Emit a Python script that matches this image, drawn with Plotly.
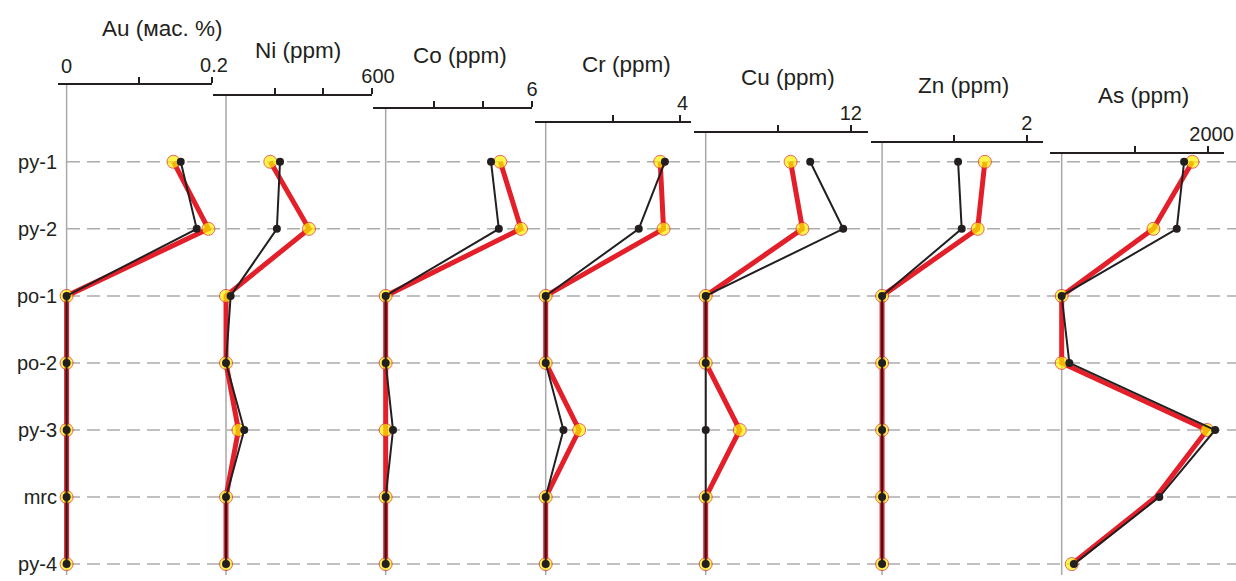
import plotly.graph_objects as go

# ---------------- data ----------------
samples = ['py-1', 'py-2', 'po-1', 'po-2', 'py-3', 'mrc', 'py-4']
elements = ['Au', 'Ni', 'Co', 'Cr', 'Cu', 'Zn', 'As']
titles = ['Au (мас. %)', 'Ni (ppm)', 'Co (ppm)', 'Cr (ppm)',
          'Cu (ppm)', 'Zn (ppm)', 'As (ppm)']

au_red = [0.147, 0.195, 0, 0, 0, 0, 0]
au_black = [0.157, 0.179, 0, 0, 0, 0, 0]
ni_red = [182, 341, 0, 0, 51, 0, 0]
ni_black = [222, 209, 19, 0, 75, 0, 0]
co_red = [4.70, 5.55, 0, 0, 0, 0, 0]
co_black = [4.32, 4.64, 0, 0, 0.30, 0, 0]
cr_red = [3.42, 3.52, 0, 0, 1.00, 0, 0]
cr_black = [3.56, 2.78, 0, 0, 0.53, 0, 0]
cu_red = [7.02, 8.00, 0, 0, 2.82, 0, 0]
cu_black = [8.64, 11.37, 0, 0, 0, 0, 0]
zn_red = [1.42, 1.32, 0, 0, 0, 0, 0]
zn_black = [1.05, 1.10, 0, 0, 0, 0, 0]
as_red = [1792, 1257, 0, 0, 1993, 1293, 138]
as_black = [1678, 1577, 0, 105, 2103, 1338, 167]

red_series = [au_red, ni_red, co_red, cr_red, cu_red, zn_red, as_red]
black_series = [au_black, ni_black, co_black, cr_black, cu_black, zn_black, as_black]

tick_vals = [[0.1, 0.2], [200, 400, 600], [2, 4, 6], [2, 4], [6, 12], [1, 2], [1000, 2000]]
tick_text = [['', '0.2'], ['', '', '600'], ['', '', '6'], ['', '4'], ['', '12'], ['', '2'], ['', '2000']]

# ---------------- layout (pixels) ----------------
W, H = 1236, 581
dom_px = [(58, 212), (213, 372), (373, 532), (535, 691), (693.5, 867.5), (871, 1043.3), (1050.3, 1224.3)]
axis_y_px = [84, 95, 108, 122, 132, 142, 152.5]
ranges = [[-0.01183, 0.2], [-53.5, 600], [-0.52, 6], [-0.32, 4.34],
          [-1.01, 13.38], [-0.153, 2.227], [-156, 2229]]
title_px = [(162.5, 28), (298, 50), (460, 56), (626, 65), (787.5, 78), (963, 86), (1143, 95)]
label_shift = [2, 6, 0, 3, 0, 0, 4]

TXT = '#231f20'
RED = '#e3202a'
YEL = '#fff200'
BLK = '#231f20'
FONT = 'Liberation Sans, Arial, sans-serif'

fig = go.Figure()
layout = dict(
    template='none',
    width=W, height=H, autosize=False,
    margin=dict(l=0, r=0, t=0, b=0, pad=0),
    paper_bgcolor='white', plot_bgcolor='rgba(0,0,0,0)',
    showlegend=False,
    font=dict(family=FONT, color=TXT),
)

shapes = []
annotations = []

for i, el in enumerate(elements):
    n = i + 1
    xname = 'xaxis' if n == 1 else f'xaxis{n}'
    xref = 'x' if n == 1 else f'x{n}'
    pos = 1 - axis_y_px[i] / H
    layout[xname] = dict(
        domain=[dom_px[i][0] / W, dom_px[i][1] / W],
        range=ranges[i], automargin=False,
        anchor='free', position=pos, side='top',
        showline=True, linecolor=TXT, linewidth=1.5,
        ticks='outside', ticklen=6, tickwidth=1.5, tickcolor=TXT,
        tickmode='array', tickvals=tick_vals[i], ticktext=tick_text[i],
        ticklabelshift=label_shift[i], ticklabelstandoff=-3,
        tickfont=dict(family=FONT, size=20, color=TXT),
        showgrid=False, zeroline=False, fixedrange=True,
    )
    shapes.append(dict(type='line', xref=xref, yref='paper', x0=0, x1=0,
                       y0=1 - 575 / H, y1=pos, layer='below',
                       line=dict(color='#a8a8a8', width=1.5)))
    annotations.append(dict(text=titles[i], xref='paper', yref='paper',
                            x=title_px[i][0] / W, y=1 - title_px[i][1] / H,
                            xanchor='center', yanchor='middle', showarrow=False,
                            font=dict(family=FONT, size=22.5, color=TXT)))

    red_sizes = [0 if (el == 'As' and s == 'mrc') else 13 for s in samples]
    fig.add_trace(go.Scatter(
        x=red_series[i], y=samples, xaxis=xref, yaxis='y',
        mode='lines+markers', cliponaxis=False,
        line=dict(color=RED, width=5),
        marker=dict(size=red_sizes, color=YEL, line=dict(color=RED, width=1)),
        name=el + ' red'))
    fig.add_trace(go.Scatter(
        x=black_series[i], y=samples, xaxis=xref, yaxis='y',
        mode='lines+markers', cliponaxis=False,
        line=dict(color=BLK, width=2),
        marker=dict(size=8, color=BLK),
        name=el + ' black'))

annotations.append(dict(text='0', xref='x', yref='paper', x=0, y=1 - 66 / H,
                        xanchor='center', yanchor='middle', showarrow=False,
                        font=dict(family=FONT, size=20, color=TXT)))

for s in samples:
    shapes.append(dict(type='line', xref='paper', yref='y', x0=67 / W, x1=1,
                       y0=s, y1=s, layer='below',
                       line=dict(color='#acacac', width=1.5, dash='13px,7px')))

layout['yaxis'] = dict(
    type='category', categoryorder='array', categoryarray=samples,
    range=[6.252, -2.413], domain=[0, 1], automargin=False,
    anchor='free', position=57 / W,
    showline=False, showgrid=False, zeroline=False, ticks='',
    tickfont=dict(family=FONT, size=20, color=TXT), fixedrange=True,
)
layout['shapes'] = shapes
layout['annotations'] = annotations
fig.update_layout(**layout)

fig.write_html('out.html')
